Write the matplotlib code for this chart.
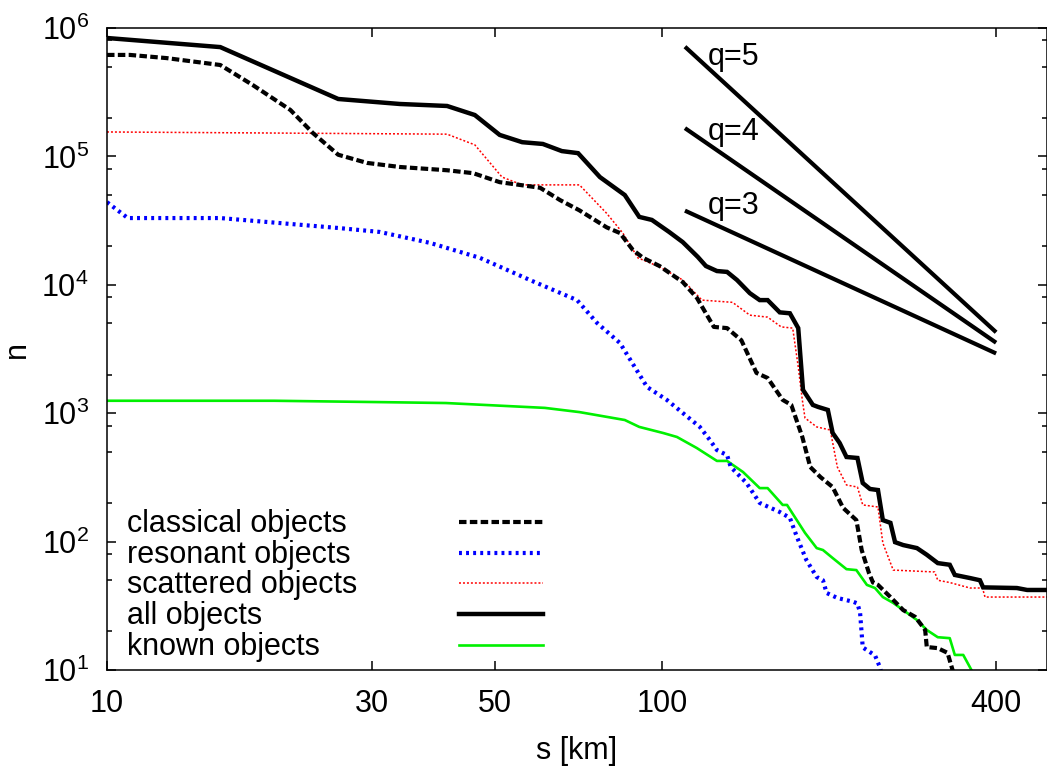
import matplotlib
matplotlib.use("Agg")
import matplotlib.pyplot as plt
from matplotlib.ticker import FixedLocator, NullLocator

plt.rcParams['font.family'] = ['Liberation Sans', 'DejaVu Sans']
plt.rcParams['mathtext.fontset'] = 'custom'
plt.rcParams['mathtext.rm'] = 'Liberation Sans'
plt.rcParams['mathtext.it'] = 'Liberation Sans:italic'
plt.rcParams['mathtext.bf'] = 'Liberation Sans:bold'

FS = 22

# cumulative number of objects n(>s) versus size s [km]
s_all = [10, 16.0, 26.1, 33.7, 41, 46, 51, 56, 61, 66, 70.6, 77.3, 85.7, 91, 95.9,
         103, 109, 116, 120, 125.6, 131, 136.5, 144, 150, 155, 163, 170, 176, 179.5,
         187, 191, 199, 203, 209, 215, 225, 230, 237, 245, 250, 258, 263, 272, 288,
         300, 314, 330, 337, 359, 374, 379, 436, 455, 500]
n_all = [8.36e5, 7.1e5, 2.8e5, 2.56e5, 2.47e5, 2.1e5, 1.47e5, 1.29e5, 1.25e5, 1.1e5,
         1.06e5, 6.9e4, 5.0e4, 3.38e4, 3.2e4, 2.58e4, 2.15e4, 1.65e4, 1.40e4, 1.28e4,
         1.26e4, 1.09e4, 8.6e3, 7.6e3, 7.6e3, 6.1e3, 6.0e3, 4.6e3, 1.52e3, 1.16e3,
         1.12e3, 1.06e3, 702, 586, 456, 448, 286, 257, 252, 147, 140, 99, 94, 89,
         79, 68, 66, 55, 52, 50, 44, 43.5, 42, 42]

s_classical = [10, 11.0, 12.8, 16, 18.3, 21.4, 23.5, 26.1, 29.4, 33.7, 41, 45.7, 51,
               60.3, 65.5, 71, 79.5, 84, 88.6, 92.5, 99, 109, 115.6, 124, 131, 139,
               148, 155, 165, 171, 179, 185, 193, 203, 212, 224, 229, 236, 240, 245,
               258, 272, 286, 298, 300, 314, 327, 335]
n_classical = [6.17e5, 6.17e5, 5.83e5, 5.15e5, 3.6e5, 2.3e5, 1.52e5, 1.03e5, 8.9e4,
               8.27e4, 7.8e4, 7.4e4, 6.3e4, 5.7e4, 4.57e4, 3.8e4, 2.8e4, 2.53e4,
               1.87e4, 1.62e4, 1.4e4, 1.05e4, 7.9e3, 4.7e3, 4.6e3, 3.7e3, 2.06e3,
               1.88e3, 1.27e3, 1.16e3, 653, 381, 318, 266, 183, 147, 86, 57, 48, 46,
               37, 29.3, 25.9, 20.5, 15.1, 14.8, 13.6, 9.5]

s_scattered = [10, 41, 46, 51.5, 56, 71, 79.5, 85, 90.5, 99, 109, 118, 134, 144, 155,
               164, 172, 176, 179, 181, 190, 201, 207, 215, 225, 230, 245, 250, 261,
               310, 314, 330, 359, 378, 382, 500]
n_scattered = [1.55e5, 1.49e5, 1.23e5, 6.9e4, 6.0e4, 6.0e4, 3.6e4, 2.53e4, 1.62e4,
               1.38e4, 1.09e4, 7.6e3, 7.3e3, 5.8e3, 5.6e3, 4.7e3, 4.6e3, 2.3e3,
               1.27e3, 918, 782, 740, 381, 276, 266, 193, 186, 97.5, 60, 58, 50, 48,
               43.5, 43.5, 37, 37]

s_resonant = [10, 10.9, 16, 26.1, 31, 38.2, 47, 57.8, 70.3, 76.4, 84, 90, 94, 102,
              117, 122, 125.6, 131, 133, 142, 150, 163, 170, 175, 182, 190, 195, 198,
              207, 221, 225, 227.5, 230, 242, 247, 248]
n_resonant = [4.4e4, 3.31e4, 3.31e4, 2.77e4, 2.58e4, 2.12e4, 1.62e4, 1.09e4, 7.6e3,
              5.04e3, 3.52e3, 2.17e3, 1.6e3, 1.27e3, 782, 618, 516, 472, 381, 286,
              200, 170, 153, 109, 72, 53, 50, 39.8, 36.4, 34, 33, 27.8, 15, 13,
              10.5, 9.8]

s_known = [10, 20, 31, 40.8, 61.5, 71, 85.7, 91, 100.5, 106.4, 115.5, 125.6, 131, 140,
           150, 155, 165, 168, 181, 190, 195, 203, 215, 224, 234, 242, 250, 261, 272,
           288, 300, 314, 330, 337, 349, 362]
n_known = [1.25e3, 1.25e3, 1.22e3, 1.2e3, 1.1e3, 1.02e3, 885, 782, 701, 653, 536, 425,
           425, 348, 261, 261, 193, 193, 117, 89, 86, 74.5, 61, 60, 46, 43.5, 37,
           33.3, 29.3, 24.5, 20.5, 18, 17.7, 13.1, 13.1, 9.8]

# power-law reference slopes n ~ s^(1-q)
q_values = [3, 4, 5]
q_s_range = [110, 400]
q_n_start = [3.78e4, 1.66e5, 7.15e5]
q_n_end = [2.92e3, 3.54e3, 4.27e3]
q_label_s = 121
q_label_n = [3.56e4, 1.34e5, 5.15e5]

x_ticks = [10, 30, 50, 100, 400]
x_tick_labels = ['10', '30', '50', '100', '400']
y_exponents = [1, 2, 3, 4, 5, 6]

styles = {
    'classical': dict(color='black', lw=3.0, dashes=(1.8, 0.8), dash_capstyle='butt'),
    'resonant': dict(color='#0000ff', lw=3.0, dashes=(0.7, 1.0), dash_capstyle='butt'),
    'scattered': dict(color='#ff0000', lw=1.1, dashes=(1.3, 1.3), dash_capstyle='butt'),
    'all': dict(color='black', lw=3.2, solid_joinstyle='miter'),
    'known': dict(color='#00f000', lw=1.9),
}
legend_rows = [
    ('classical objects', 'classical'),
    ('resonant objects', 'resonant'),
    ('scattered objects', 'scattered'),
    ('all objects', 'all'),
    ('known objects', 'known'),
]

W, H = 1047, 769
fig = plt.figure(figsize=(W / 100, H / 100), dpi=100)
left, right, top, bottom = 107, 1046.5, 28, 670
ax = fig.add_axes([left / W, 1 - bottom / H, (right - left) / W, (bottom - top) / H])
ax.set_xscale('log')
ax.set_yscale('log')
ax.set_xlim(10, 493)
ax.set_ylim(10, 1e6)

ax.plot(s_scattered, n_scattered, **styles['scattered'])
ax.plot(s_known, n_known, **styles['known'])
ax.plot(s_resonant, n_resonant, **styles['resonant'])
ax.plot(s_classical, n_classical, **styles['classical'])
ax.plot(s_all, n_all, **styles['all'])

for q, n0, n1, nl in zip(q_values, q_n_start, q_n_end, q_label_n):
    ax.plot(q_s_range, [n0, n1], color='black', lw=3.0, solid_capstyle='butt')
    ax.text(q_label_s, nl, f'q={q}', fontsize=FS, ha='left', va='baseline')

# key: label on the left, line sample on the right
row_h = 30.8 / (bottom - top)
y0 = 1 - (521.7 - top) / (bottom - top)
for i, (label, key) in enumerate(legend_rows):
    y = y0 - i * row_h
    ax.text(20 / (right - left), y - 10 / (bottom - top), label, transform=ax.transAxes,
            fontsize=FS, ha='left', va='baseline')
    ax.plot([(459 - left) / (right - left), (543 - left) / (right - left)], [y, y],
            transform=ax.transAxes, **styles[key])

ax.xaxis.set_major_locator(FixedLocator(x_ticks))
ax.set_xticklabels(x_tick_labels)
ax.xaxis.set_minor_locator(NullLocator())
ax.yaxis.set_major_locator(FixedLocator([10.0 ** e for e in y_exponents]))
ax.set_yticklabels([r'$\mathregular{10^{%d}}$' % e for e in y_exponents])
ax.yaxis.set_minor_locator(FixedLocator([k * 10.0 ** e for e in y_exponents[:-1]
                                         for k in (2, 5, 8)]))

ax.tick_params(which='both', direction='in', top=True, right=True, width=1.1,
               colors='black', labelsize=FS)
ax.tick_params(which='major', length=6.5)
ax.tick_params(which='minor', length=3.5)
ax.tick_params(axis='x', which='major', pad=14)
ax.tick_params(axis='y', which='major', pad=13)
for sp in ax.spines.values():
    sp.set_linewidth(1.1)

ax.set_xlabel('s [km]', fontsize=FS)
ax.set_ylabel('n', fontsize=FS)
ax.xaxis.set_label_coords(0.5, -(736 - bottom) / (bottom - top))
ax.xaxis.label.set_va('top')
ax.yaxis.set_label_coords(-(left - 32) / (right - left), 0.5)

fig.savefig('out.png', dpi=100)
